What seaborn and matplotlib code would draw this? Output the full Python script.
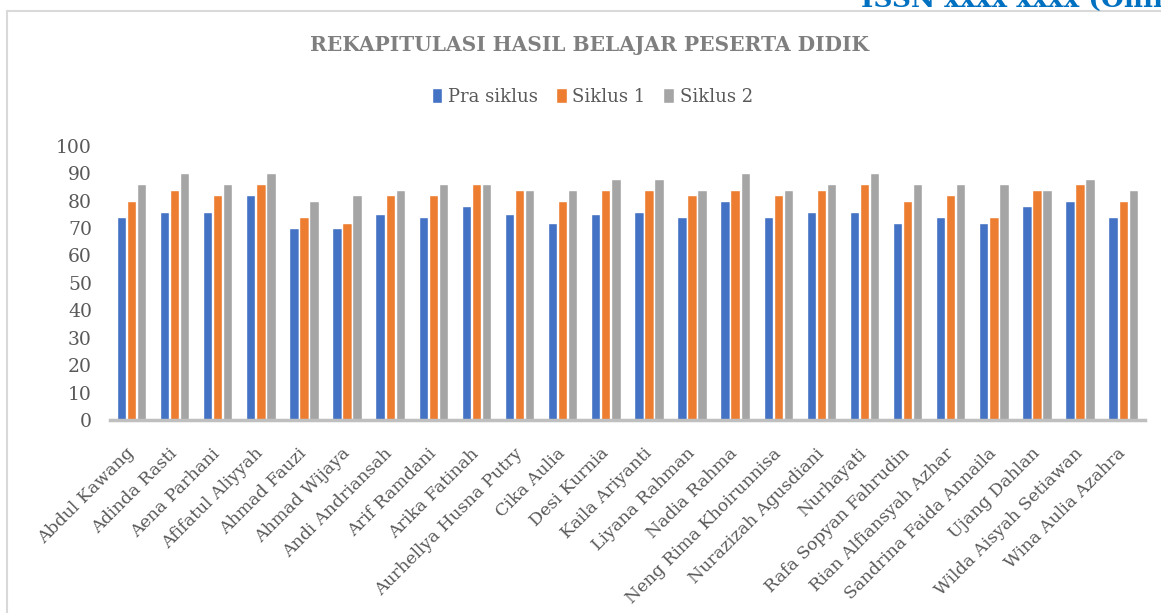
import matplotlib
matplotlib.use("Agg")
import matplotlib.pyplot as plt
from matplotlib.patches import Rectangle
from matplotlib.transforms import ScaledTranslation
import pandas as pd
import seaborn as sns

# data
students = [
    "Abdul Kawang", "Adinda Rasti", "Aena Parhani", "Afifatul Aliyyah",
    "Ahmad Fauzi", "Ahmad Wijaya", "Andi Andriansah", "Arif Ramdani",
    "Arika Fatinah", "Aurhellya Husna Putry", "Cika Aulia", "Desi Kurnia",
    "Kaila Ariyanti", "Liyana Rahman", "Nadia Rahma", "Neng Rima Khoirunnisa",
    "Nurazizah Agusdiani", "Nurhayati", "Rafa Sopyan Fahrudin",
    "Rian Alfiansyah Azhar", "Sandrina Faida Annaila", "Ujang Dahlan",
    "Wilda Aisyah Setiawan", "Wina Aulia Azahra",
]
pra_siklus = [74, 76, 76, 82, 70, 70, 75, 74, 78, 75, 72, 75,
              76, 74, 80, 74, 76, 76, 72, 74, 72, 78, 80, 74]
siklus_1 = [80, 84, 82, 86, 74, 72, 82, 82, 86, 84, 80, 84,
            84, 82, 84, 82, 84, 86, 80, 82, 74, 84, 86, 80]
siklus_2 = [86, 90, 86, 90, 80, 82, 84, 86, 86, 84, 84, 88,
            88, 84, 90, 84, 86, 90, 86, 86, 86, 84, 88, 84]
series_names = ["Pra siklus", "Siklus 1", "Siklus 2"]
colors = ["#4472C4", "#ED7D31", "#A5A5A5"]

df = pd.concat([
    pd.DataFrame({"nama": students, "nilai": vals, "tahap": name})
    for name, vals in zip(series_names, [pra_siklus, siklus_1, siklus_2])
])

sns.set_style("white")
plt.rcParams["font.family"] = ["DejaVu Serif"]

fig = plt.figure(figsize=(11.61, 6.13), dpi=100)
ax = fig.add_axes([0.0947, 0.315, 0.8913, 0.447])

sns.barplot(data=df, x="nama", y="nilai", hue="tahap", palette=colors,
            saturation=1, width=0.7, gap=0.07, ax=ax, legend=True)

ax.set_ylim(0, 100)
ax.set_yticks(range(0, 101, 10))
ax.set_xlim(-0.5, len(students) - 0.5)
ax.set_xlabel("")
ax.set_ylabel("")
ax.tick_params(axis="y", labelsize=13.5, colors="#595959", length=0, pad=13)
ax.tick_params(axis="x", labelsize=12.5, colors="#595959", length=0, pad=18)
plt.setp(ax.get_xticklabels(), rotation=45, ha="right", rotation_mode="anchor")
# nudge the slanted names a little to the left, like the original
shift = ScaledTranslation(-0.06, 0, fig.dpi_scale_trans)
for lbl in ax.get_xticklabels():
    lbl.set_transform(lbl.get_transform() + shift)
for side in ["top", "right", "left"]:
    ax.spines[side].set_visible(False)
ax.spines["bottom"].set_color("#BFBFBF")
ax.spines["bottom"].set_linewidth(2.5)
ax.grid(False)

# legend on top, centred
handles, labels = ax.get_legend_handles_labels()
ax.legend_.remove()
fig.legend(handles, labels, loc="center", bbox_to_anchor=(0.51, 0.842), ncol=3,
           frameon=False, fontsize=13, handlelength=0.6, handleheight=0.9,
           handletextpad=0.3, columnspacing=1.0, labelcolor="#595959")

fig.text(0.508, 0.927, "REKAPITULASI HASIL BELAJAR PESERTA DIDIK",
         ha="center", va="center", fontsize=14.5, fontweight="bold",
         color="#7F7F7F")

# chart frame and page header
fig.patches.append(Rectangle((7 / 1161, -0.1), 1.2, 1 - 11 / 613 + 0.1,
                             transform=fig.transFigure, fill=False,
                             edgecolor="#D9D9D9", linewidth=1.5))
fig.text(0.742, 1 - 7 / 613, "ISSN xxxx xxxx (Online", ha="left", va="baseline",
         fontsize=19, fontweight="bold", color="#0070C0")

fig.savefig("out.png", dpi=100)
